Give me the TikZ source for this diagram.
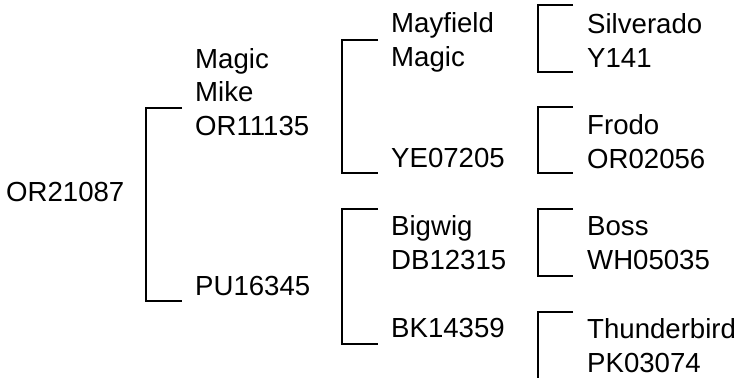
\documentclass[tikz,border=0pt]{standalone}
\usepackage{fontspec}
\setmainfont{Liberation Sans}
\begin{document}
\begin{tikzpicture}[x=1pt,y=-1pt,
  lbl/.style={anchor=base west,inner sep=0pt,align=left,font=\fontsize{27.6}{33.5}\selectfont},
  brk/.style={draw=black,line width=2pt}]
\useasboundingbox (0,0) rectangle (736,378);
% labels (base = baseline of last line)
\node[lbl] (root) at (6,201) {OR21087};
\node[lbl] (mm) at (195,135) {Magic\\Mike\\OR11135};
\node[lbl] (pu) at (195,295) {PU16345};
\node[lbl] (may) at (391,66) {Mayfield\\Magic};
\node[lbl] (ye) at (391,167) {YE07205};
\node[lbl] (big) at (391,269) {Bigwig\\DB12315};
\node[lbl] (bk) at (391,337) {BK14359};
\node[lbl] (sil) at (587,67) {Silverado\\Y141};
\node[lbl] (fro) at (587,168) {Frodo\\OR02056};
\node[lbl] (boss) at (587,269) {Boss\\WH05035};
\node[lbl] (thu) at (587,372) {Thunderbird\\PK03074};
% bracket ends
\coordinate (r1) at (182,108); \coordinate (r2) at (182,301);
\coordinate (a1) at (378,40);  \coordinate (a2) at (378,173);
\coordinate (c1) at (378,209); \coordinate (c2) at (378,344);
\coordinate (s1) at (573,5);   \coordinate (s2) at (573,72);
\coordinate (f1) at (573,107); \coordinate (f2) at (573,173);
\coordinate (w1) at (573,209); \coordinate (w2) at (573,276);
\coordinate (t1) at (573,312); \coordinate (t2) at (538,378);
% brackets
\draw[brk] (r1) -- ++(-36,0) |- (r2);
\draw[brk] (a1) -- ++(-36,0) |- (a2);
\draw[brk] (c1) -- ++(-36,0) |- (c2);
\draw[brk] (s1) -- ++(-35,0) |- (s2);
\draw[brk] (f1) -- ++(-35,0) |- (f2);
\draw[brk] (w1) -- ++(-35,0) |- (w2);
\draw[brk] (t1) -| (t2);
\end{tikzpicture}
\end{document}
